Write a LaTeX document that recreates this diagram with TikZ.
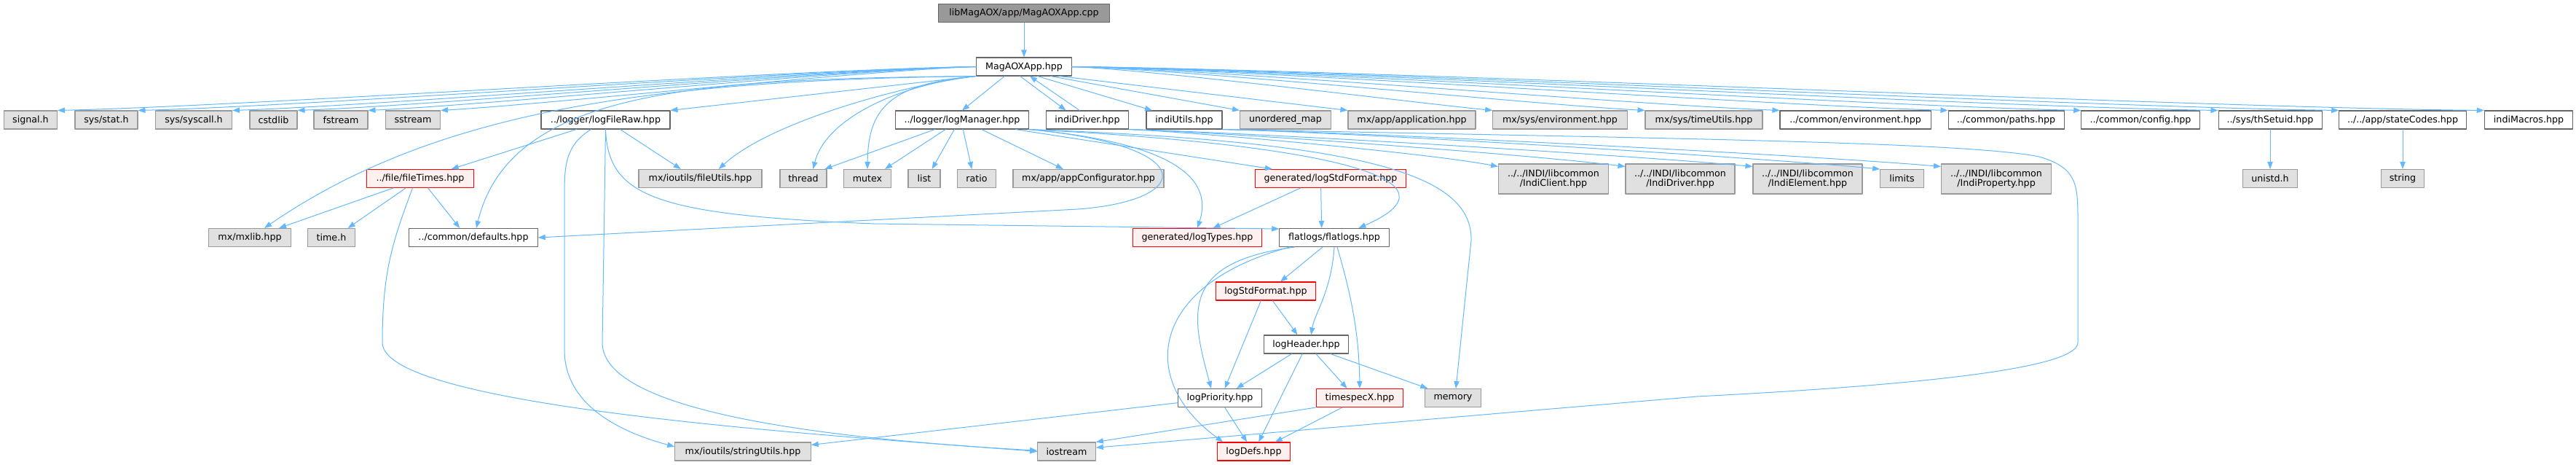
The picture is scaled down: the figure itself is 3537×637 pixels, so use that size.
\documentclass[tikz,border=0pt]{standalone}
\usepackage{fontspec}
\setmainfont{DejaVu Sans}
\usetikzlibrary{arrows.meta}
\definecolor{edgeblue}{HTML}{63B8FF}
\definecolor{rootfill}{HTML}{999999}
\definecolor{sysfill}{HTML}{E0E0E0}
\definecolor{sysline}{HTML}{999999}
\definecolor{fileline}{HTML}{666666}
\definecolor{truncfill}{HTML}{FFF0F0}
\tikzset{
  hdr/.style={draw, line width=0.8pt, minimum height=18.75pt, inner xsep=0pt, inner ysep=0pt,
    font=\fontsize{9.5}{10}\selectfont, align=center, text=black},
  bw/.style={minimum width=#1*0.75pt},
  tall/.style={minimum height=30.75pt},
  nroot/.style={hdr, fill=rootfill, draw=fileline},
  nfile/.style={hdr, fill=white, draw=fileline},
  nsys/.style={hdr, fill=sysfill, draw=sysline},
  ntrunc/.style={hdr, fill=truncfill, draw=red},
  incl/.style={draw=edgeblue, line width=0.75pt, -{Triangle[length=7.5pt,width=5.5pt]}},
}
\begin{document}
\begin{tikzpicture}[x=0.75pt,y=0.75pt,line join=round,line cap=round]
\useasboundingbox (0,0) rectangle (3537,-637);
% top
\node[nroot,bw=235] (cpp) at (1406,-18) {libMagAOX/app/MagAOXApp.cpp};
\node[nfile,bw=131] (app) at (1406,-91.5) {MagAOXApp.hpp};
% row 2
\node[nsys,bw=73] (signal) at (42,-164.5) {signal.h};
\node[nsys,bw=86] (sysstat) at (146,-164.5) {sys/stat.h};
\node[nsys,bw=105] (syscall) at (266,-164.5) {sys/syscall.h};
\node[nsys,bw=65] (cstdlib) at (375.5,-164.5) {cstdlib};
\node[nsys,bw=74] (fstream) at (468,-164.5) {fstream};
\node[nsys,bw=75] (sstream) at (567,-164.5) {sstream};
\node[nfile,bw=177] (logFileRaw) at (831.5,-164.5) {../logger/logFileRaw.hpp};
\node[nfile,bw=183] (logManager) at (1321,-164.5) {../logger/logManager.hpp};
\node[nfile,bw=113.5] (indiDriver) at (1493,-164.5) {indiDriver.hpp};
\node[nfile,bw=104] (indiUtils) at (1626,-164.5) {indiUtils.hpp};
\node[nsys,bw=125] (unorderedMap) at (1765,-164.5) {unordered\_map};
\node[nsys,bw=175] (application) at (1938.5,-164.5) {mx/app/application.hpp};
\node[nsys,bw=184.5] (mxEnvironment) at (2142,-164.5) {mx/sys/environment.hpp};
\node[nsys,bw=161] (timeUtils) at (2339.5,-164.5) {mx/sys/timeUtils.hpp};
\node[nfile,bw=207] (environment) at (2547.5,-164.5) {../common/environment.hpp};
\node[nfile,bw=159] (paths) at (2754.5,-164.5) {../common/paths.hpp};
\node[nfile,bw=162.5] (config) at (2939,-164.5) {../common/config.hpp};
\node[nfile,bw=142] (thSetuid) at (3117,-164.5) {../sys/thSetuid.hpp};
\node[nfile,bw=174.5] (stateCodes) at (3299,-164.5) {../../app/stateCodes.hpp};
\node[nfile,bw=121.5] (indiMacros) at (3472,-164.5) {indiMacros.hpp};
% row 3
\node[ntrunc,bw=147.5] (fileTimes) at (577,-245) {../file/fileTimes.hpp};
\node[nsys,bw=169] (fileUtils) at (961.5,-245) {mx/ioutils/fileUtils.hpp};
\node[nsys,bw=64] (thread) at (1103,-245) {thread};
\node[nsys,bw=65] (mutex) at (1191,-245) {mutex};
\node[nsys,bw=44] (list) at (1269,-245) {list};
\node[nsys,bw=53] (ratio) at (1341,-245) {ratio};
\node[nsys,bw=207] (appConfigurator) at (1494.5,-245) {mx/app/appConfigurator.hpp};
\node[ntrunc,bw=207] (logStdFormatGen) at (1827,-245) {generated/logStdFormat.hpp};
\node[nsys,bw=151,tall] (indiClient) at (2133,-245.5) {../../INDI/libcommon\\/IndiClient.hpp};
\node[nsys,bw=150,tall] (indiDriverLib) at (2307,-245.5) {../../INDI/libcommon\\/IndiDriver.hpp};
\node[nsys,bw=150,tall] (indiElement) at (2482,-245.5) {../../INDI/libcommon\\/IndiElement.hpp};
\node[nsys,bw=59.5] (limits) at (2611.5,-245) {limits};
\node[nsys,bw=151,tall] (indiProperty) at (2741,-245.5) {../../INDI/libcommon\\/IndiProperty.hpp};
\node[nsys,bw=75] (unistd) at (3117,-245) {unistd.h};
\node[nsys,bw=58.5] (strng) at (3299,-245) {string};
% row 4
\node[nsys,bw=112.5] (mxlib) at (343,-326) {mx/mxlib.hpp};
\node[nsys,bw=64.5] (timeh) at (455,-326) {time.h};
\node[nfile,bw=176.5] (defaults) at (650,-326) {../common/defaults.hpp};
\node[ntrunc,bw=177.5] (logTypes) at (1644,-326) {generated/logTypes.hpp};
\node[nfile,bw=150.5] (flatlogs) at (1832,-326) {flatlogs/flatlogs.hpp};
% rows 5-8
\node[ntrunc,bw=137.6] (logStdFormat) at (1738,-399.5) {logStdFormat.hpp};
\node[nfile,bw=116] (logHeader) at (1793.5,-472.5) {logHeader.hpp};
\node[nfile,bw=115] (logPriority) at (1675,-546) {logPriority.hpp};
\node[ntrunc,bw=119.5] (timespecX) at (1867,-546) {timespecX.hpp};
\node[nsys,bw=77.5] (memory) at (1995,-546) {memory};
\node[nsys,bw=186.5] (stringUtils) at (1020,-619.5) {mx/ioutils/stringUtils.hpp};
\node[nsys,bw=79.6] (iostream) at (1464.5,-619.5) {iostream};
\node[ntrunc,bw=99.4] (logDefs) at (1721.5,-619.5) {logDefs.hpp};

\draw[incl] (cpp) -- (app);
% MagAOXApp.hpp, left fan
\draw[incl] (app.west) .. controls (1088,-95) and (331,-146) .. (signal.north east);
\draw[incl] (app.west) .. controls (1110,-95) and (419,-146) .. (sysstat.north east);
\draw[incl] (app.west) .. controls (1136,-95) and (522,-145) .. (syscall.north east);
\draw[incl] (app.west) .. controls (1154,-95) and (594,-145) .. (cstdlib.north east);
\draw[incl] (app.west) .. controls (1173,-95) and (672,-144) .. (fstream.north east);
\draw[incl] (app.west) .. controls (1193,-96) and (752,-143) .. (sstream.north east);
\draw[incl] (app.south west) -- (logFileRaw.north east);
\draw[incl] (app.south west) .. controls (900,-110) and (600,-150) .. ([xshift=15pt]mxlib.north);
\draw[incl] (app.south west) .. controls (950,-108) and (700,-125) .. ([xshift=3pt]defaults.north);
\draw[incl] (app.south west) .. controls (1250,-115) and (1060,-165) .. ([xshift=19pt]fileUtils.north);
\draw[incl] (app.south west) .. controls (1240,-115) and (1135,-160) .. ([xshift=10pt]thread.north);
\draw[incl] (app.south west) .. controls (1220,-115) and (1192,-150) .. (mutex.north);
% MagAOXApp.hpp, below and right
\draw[incl] ([xshift=-20pt]app.south) -- (logManager.north);
\draw[incl] ([xshift=-4pt]app.south) -- ([xshift=-22pt]indiDriver.north);
\draw[incl] ([xshift=-8pt]indiDriver.north) -- ([xshift=6pt]app.south);
\draw[incl] ([xshift=14pt]app.south) -- ([xshift=-33pt]indiUtils.north);
\draw[incl] ([xshift=-22pt]app.south east) -- (unorderedMap.north west);
\draw[incl] (app.-15) -- (application.north west);
\draw[incl] (app.east) .. controls (1587,-96) and (1934,-140) .. (mxEnvironment.north west);
\draw[incl] (app.east) .. controls (1629,-95) and (2101,-143) .. (timeUtils.north west);
\draw[incl] (app.east) .. controls (1666,-95) and (2249,-144) .. (environment.north west);
\draw[incl] (app.east) .. controls (1712,-95) and (2434,-145) .. (paths.north west);
\draw[incl] (app.east) .. controls (1748,-95) and (2581,-146) .. (config.north west);
\draw[incl] (app.east) .. controls (1786,-95) and (2731,-147) .. (thSetuid.north west);
\draw[incl] (app.east) .. controls (1819,-95) and (2864,-147) .. (stateCodes.north west);
\draw[incl] (app.east) .. controls (1859,-95) and (3023,-148) .. (indiMacros.north west);
\draw[incl] (thSetuid) -- (unistd);
\draw[incl] (stateCodes) -- (strng);
% logFileRaw.hpp
\draw[incl] ([xshift=-30pt]logFileRaw.south) -- ([xshift=32pt]fileTimes.north);
\draw[incl] ([xshift=15pt]logFileRaw.south) -- ([xshift=-20pt]fileUtils.north);
\draw[incl] ([xshift=-15pt]logFileRaw.south) .. controls (775,-200) and (775,-230) .. (775,-270)
  -- (775,-480) .. controls (775,-560) and (860,-595) .. ([yshift=5pt]stringUtils.west);
\draw[incl] (logFileRaw.south) -- (827,-470) .. controls (827,-560) and (1100,-600) .. ([yshift=1pt]iostream.west);
\draw[incl] (logFileRaw.south) .. controls (835,-270) and (900,-295) .. (1200,-307) -- ([yshift=9pt]flatlogs.west);
% fileTimes.hpp
\draw[incl] ([xshift=-28pt]fileTimes.south) -- ([xshift=30pt]mxlib.north);
\draw[incl] ([xshift=-15pt]fileTimes.south) -- ([xshift=17pt]timeh.north);
\draw[incl] ([xshift=8pt]fileTimes.south) -- ([xshift=-14pt]defaults.north);
\draw[incl] ([xshift=-8pt]fileTimes.south) .. controls (540,-330) and (525,-370) .. (525,-470)
  .. controls (525,-560) and (1150,-598) .. (iostream.west);
% logManager.hpp
\draw[incl] ([xshift=-28pt]logManager.south) -- ([xshift=22pt]thread.north);
\draw[incl] ([xshift=-17pt]logManager.south) -- ([xshift=18pt]mutex.north);
\draw[incl] ([xshift=-8pt]logManager.south) -- ([xshift=8pt]list.north);
\draw[incl] ([xshift=1pt]logManager.south) -- ([xshift=-5pt]ratio.north);
\draw[incl] ([xshift=20pt]logManager.south) -- ([xshift=-26pt]appConfigurator.north);
\draw[incl] ([xshift=55pt]logManager.south) -- ([xshift=-60pt]logStdFormatGen.north);
\draw[incl] (logManager.south east) .. controls (1600,-195) and (1668,-240) .. (logTypes.north);
\draw[incl] (logManager.south east) .. controls (1650,-200) and (1640,-275) .. (1480,-287) -- (defaults.east);
\draw[incl] (logManager.south east) .. controls (1850,-200) and (2010,-250) .. ([xshift=25pt]flatlogs.north);
\draw[incl] (logManager.south east) .. controls (1880,-195) and (2022,-240) .. (2020,-330) -- ([xshift=3pt]memory.north);
% generated/logStdFormat.hpp
\draw[incl] ([xshift=-31pt]logStdFormatGen.south) -- ([xshift=16pt]logTypes.north);
\draw[incl] ([xshift=-10pt]logStdFormatGen.south) -- ([xshift=-13pt]flatlogs.north);
% indiDriver.hpp and indiUtils.hpp
\draw[incl] (indiDriver.south east) .. controls (1650,-182) and (1960,-210) .. ([yshift=-3pt]indiClient.north west);
\draw[incl] (indiDriver.south east) .. controls (1690,-182) and (2100,-212) .. ([yshift=-3pt]indiDriverLib.north west);
\draw[incl] (indiDriver.south east) .. controls (1720,-182) and (2240,-213) .. ([yshift=-3pt]indiElement.north west);
\draw[incl] (indiUtils.south east) .. controls (1860,-182) and (2400,-215) .. (limits.north west);
\draw[incl] (indiUtils.south east) .. controls (1880,-182) and (2470,-212) .. ([yshift=-3pt]indiProperty.north west);
\draw[incl] (indiUtils.south east) .. controls (2300,-190) and (2700,-195) .. (2800,-215)
  .. controls (2850,-230) and (2853,-250) .. (2853,-300) -- (2853,-470)
  .. controls (2853,-500) and (2700,-525) .. (2330,-544) -- ([yshift=4pt]iostream.east);
% flatlogs.hpp
\draw[incl] ([xshift=-12pt]flatlogs.south) -- ([xshift=15pt]logStdFormat.north);
\draw[incl] (flatlogs.south) .. controls (1828,-400) and (1805,-430) .. ([xshift=5pt]logHeader.north);
\draw[incl] ([xshift=3pt]flatlogs.south) .. controls (1860,-420) and (1866,-470) .. (timespecX.north);
\draw[incl] ([xshift=-41pt]flatlogs.south) .. controls (1620,-360) and (1635,-430) .. ([xshift=-9pt]logPriority.north);
\draw[incl] ([xshift=-46pt]flatlogs.south) .. controls (1580,-390) and (1560,-520) .. ([xshift=6pt]logDefs.north west);
% logStdFormat.hpp, logHeader.hpp
\draw[incl] ([xshift=-5pt]logStdFormat.south) -- ([xshift=5pt]logPriority.north);
\draw[incl] ([xshift=7pt]logStdFormat.south) -- ([xshift=-9pt]logHeader.north);
\draw[incl] ([xshift=-15pt]logHeader.south) -- ([xshift=17pt]logPriority.north);
\draw[incl] ([xshift=-4pt]logHeader.south) -- ([xshift=5pt]logDefs.north);
\draw[incl] ([xshift=10pt]logHeader.south) -- ([xshift=-13pt]timespecX.north);
\draw[incl] ([xshift=25pt]logHeader.south) -- ([xshift=-26pt]memory.north);
% logPriority.hpp, timespecX.hpp
\draw[incl] ([xshift=5pt]logPriority.south) -- ([xshift=-7pt]logDefs.north);
\draw[incl] ([yshift=-5pt]logPriority.west) -- ([yshift=-3pt]stringUtils.north east);
\draw[incl] ([xshift=-18pt]timespecX.south) -- ([xshift=22pt]logDefs.north);
\draw[incl] (timespecX.south west) -- (iostream.north east);
\end{tikzpicture}
\end{document}
